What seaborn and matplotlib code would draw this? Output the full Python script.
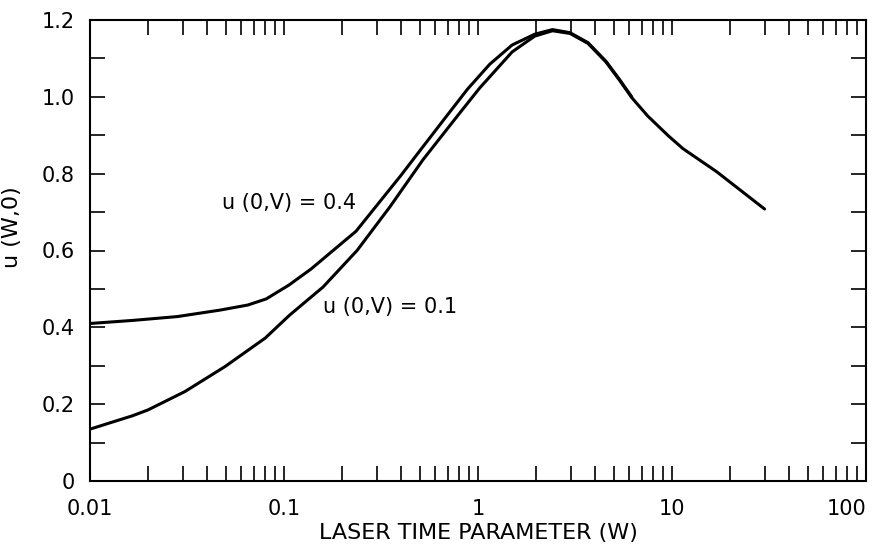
import numpy as np
import pandas as pd
import matplotlib
matplotlib.use("Agg")
import matplotlib.pyplot as plt
import matplotlib.ticker as mticker
import seaborn as sns

# curve u(0,V)=0.1
w_low = [0.01, 0.0166, 0.0199, 0.0309, 0.0497, 0.08, 0.107, 0.159, 0.238, 0.352,
         0.52, 0.777, 1.02, 1.5, 1.96, 2.42, 2.98, 3.69, 4.56, 5.35, 6.2, 7.5,
         9.6, 11.4, 17.0, 30.0]
u_low = [0.135, 0.170, 0.185, 0.233, 0.298, 0.372, 0.432, 0.505, 0.600, 0.714,
         0.836, 0.948, 1.023, 1.117, 1.158, 1.172, 1.165, 1.139, 1.091, 1.044, 0.998, 0.950,
         0.898, 0.865, 0.805, 0.708]

# curve u(0,V)=0.4
w_high = [0.01, 0.0166, 0.0282, 0.047, 0.065, 0.081, 0.106, 0.138, 0.18, 0.235,
          0.306, 0.40, 0.52, 0.677, 0.883, 1.15, 1.5, 1.96, 2.42, 2.98, 3.69,
          4.56, 5.35, 6.2]
u_high = [0.410, 0.418, 0.428, 0.445, 0.458, 0.474, 0.510, 0.552, 0.601, 0.650,
          0.722, 0.795, 0.870, 0.945, 1.020, 1.085, 1.135, 1.163, 1.175, 1.167, 1.141,
          1.093, 1.046, 1.000]

y_ticks = [0, 0.2, 0.4, 0.6, 0.8, 1.0, 1.2]
y_tick_labels = ["0", "0.2", "0.4", "0.6", "0.8", "1.0", "1.2"]
x_ticks = [0.01, 0.1, 1, 10, 100]
x_tick_labels = ["0.01", "0.1", "1", "10", "100"]

sns.set_theme(style="ticks")
plt.rcParams['font.family'] = ['DejaVu Sans']
plt.rcParams['text.color'] = 'black'
plt.rcParams['axes.labelcolor'] = 'black'
plt.rcParams['xtick.color'] = 'black'
plt.rcParams['ytick.color'] = 'black'

fig = plt.figure(figsize=(8.83, 5.47), dpi=100)
ax = fig.add_axes([90 / 883, 1 - 481 / 547, 776 / 883, 461 / 547])

df_low = pd.DataFrame({'W': w_low, 'u': u_low})
df_high = pd.DataFrame({'W': w_high, 'u': u_high})
sns.lineplot(data=df_low, x='W', y='u', ax=ax, color='black', linewidth=2.2, sort=False)
sns.lineplot(data=df_high, x='W', y='u', ax=ax, color='black', linewidth=2.2, sort=False)

ax.set_xscale('log')
ax.set_xlim(0.01, 100)
ax.set_ylim(0, 1.2)

ax.set_xticks(x_ticks)
ax.set_xticklabels(x_tick_labels)
ax.xaxis.set_minor_locator(mticker.LogLocator(base=10, subs=np.arange(2, 10)))
ax.xaxis.set_minor_formatter(mticker.NullFormatter())
ax.set_yticks(y_ticks)
ax.set_yticklabels(y_tick_labels)
ax.yaxis.set_minor_locator(mticker.MultipleLocator(0.1))

ax.tick_params(axis='both', which='both', direction='in', top=True, right=True,
               length=11, width=1.2, color='black')
ax.tick_params(axis='x', which='major', pad=13, labelsize=15)
ax.tick_params(axis='y', which='major', pad=11, labelsize=15)
ax.get_xticklabels()[-1].set_horizontalalignment('right')

for s in ax.spines.values():
    s.set_linewidth(1.5)
    s.set_color('black')

ax.set_xlabel('LASER TIME PARAMETER (W)', fontsize=16, labelpad=3)
ax.set_ylabel('u (W,0)', fontsize=16)
ax.yaxis.set_label_coords(-0.088, 0.55)

ax.text(0.048, 0.724, 'u (0,V) = 0.4', fontsize=15, va='center', ha='left')
ax.text(0.159, 0.453, 'u (0,V) = 0.1', fontsize=15, va='center', ha='left')

fig.savefig('out.png', dpi=100)
